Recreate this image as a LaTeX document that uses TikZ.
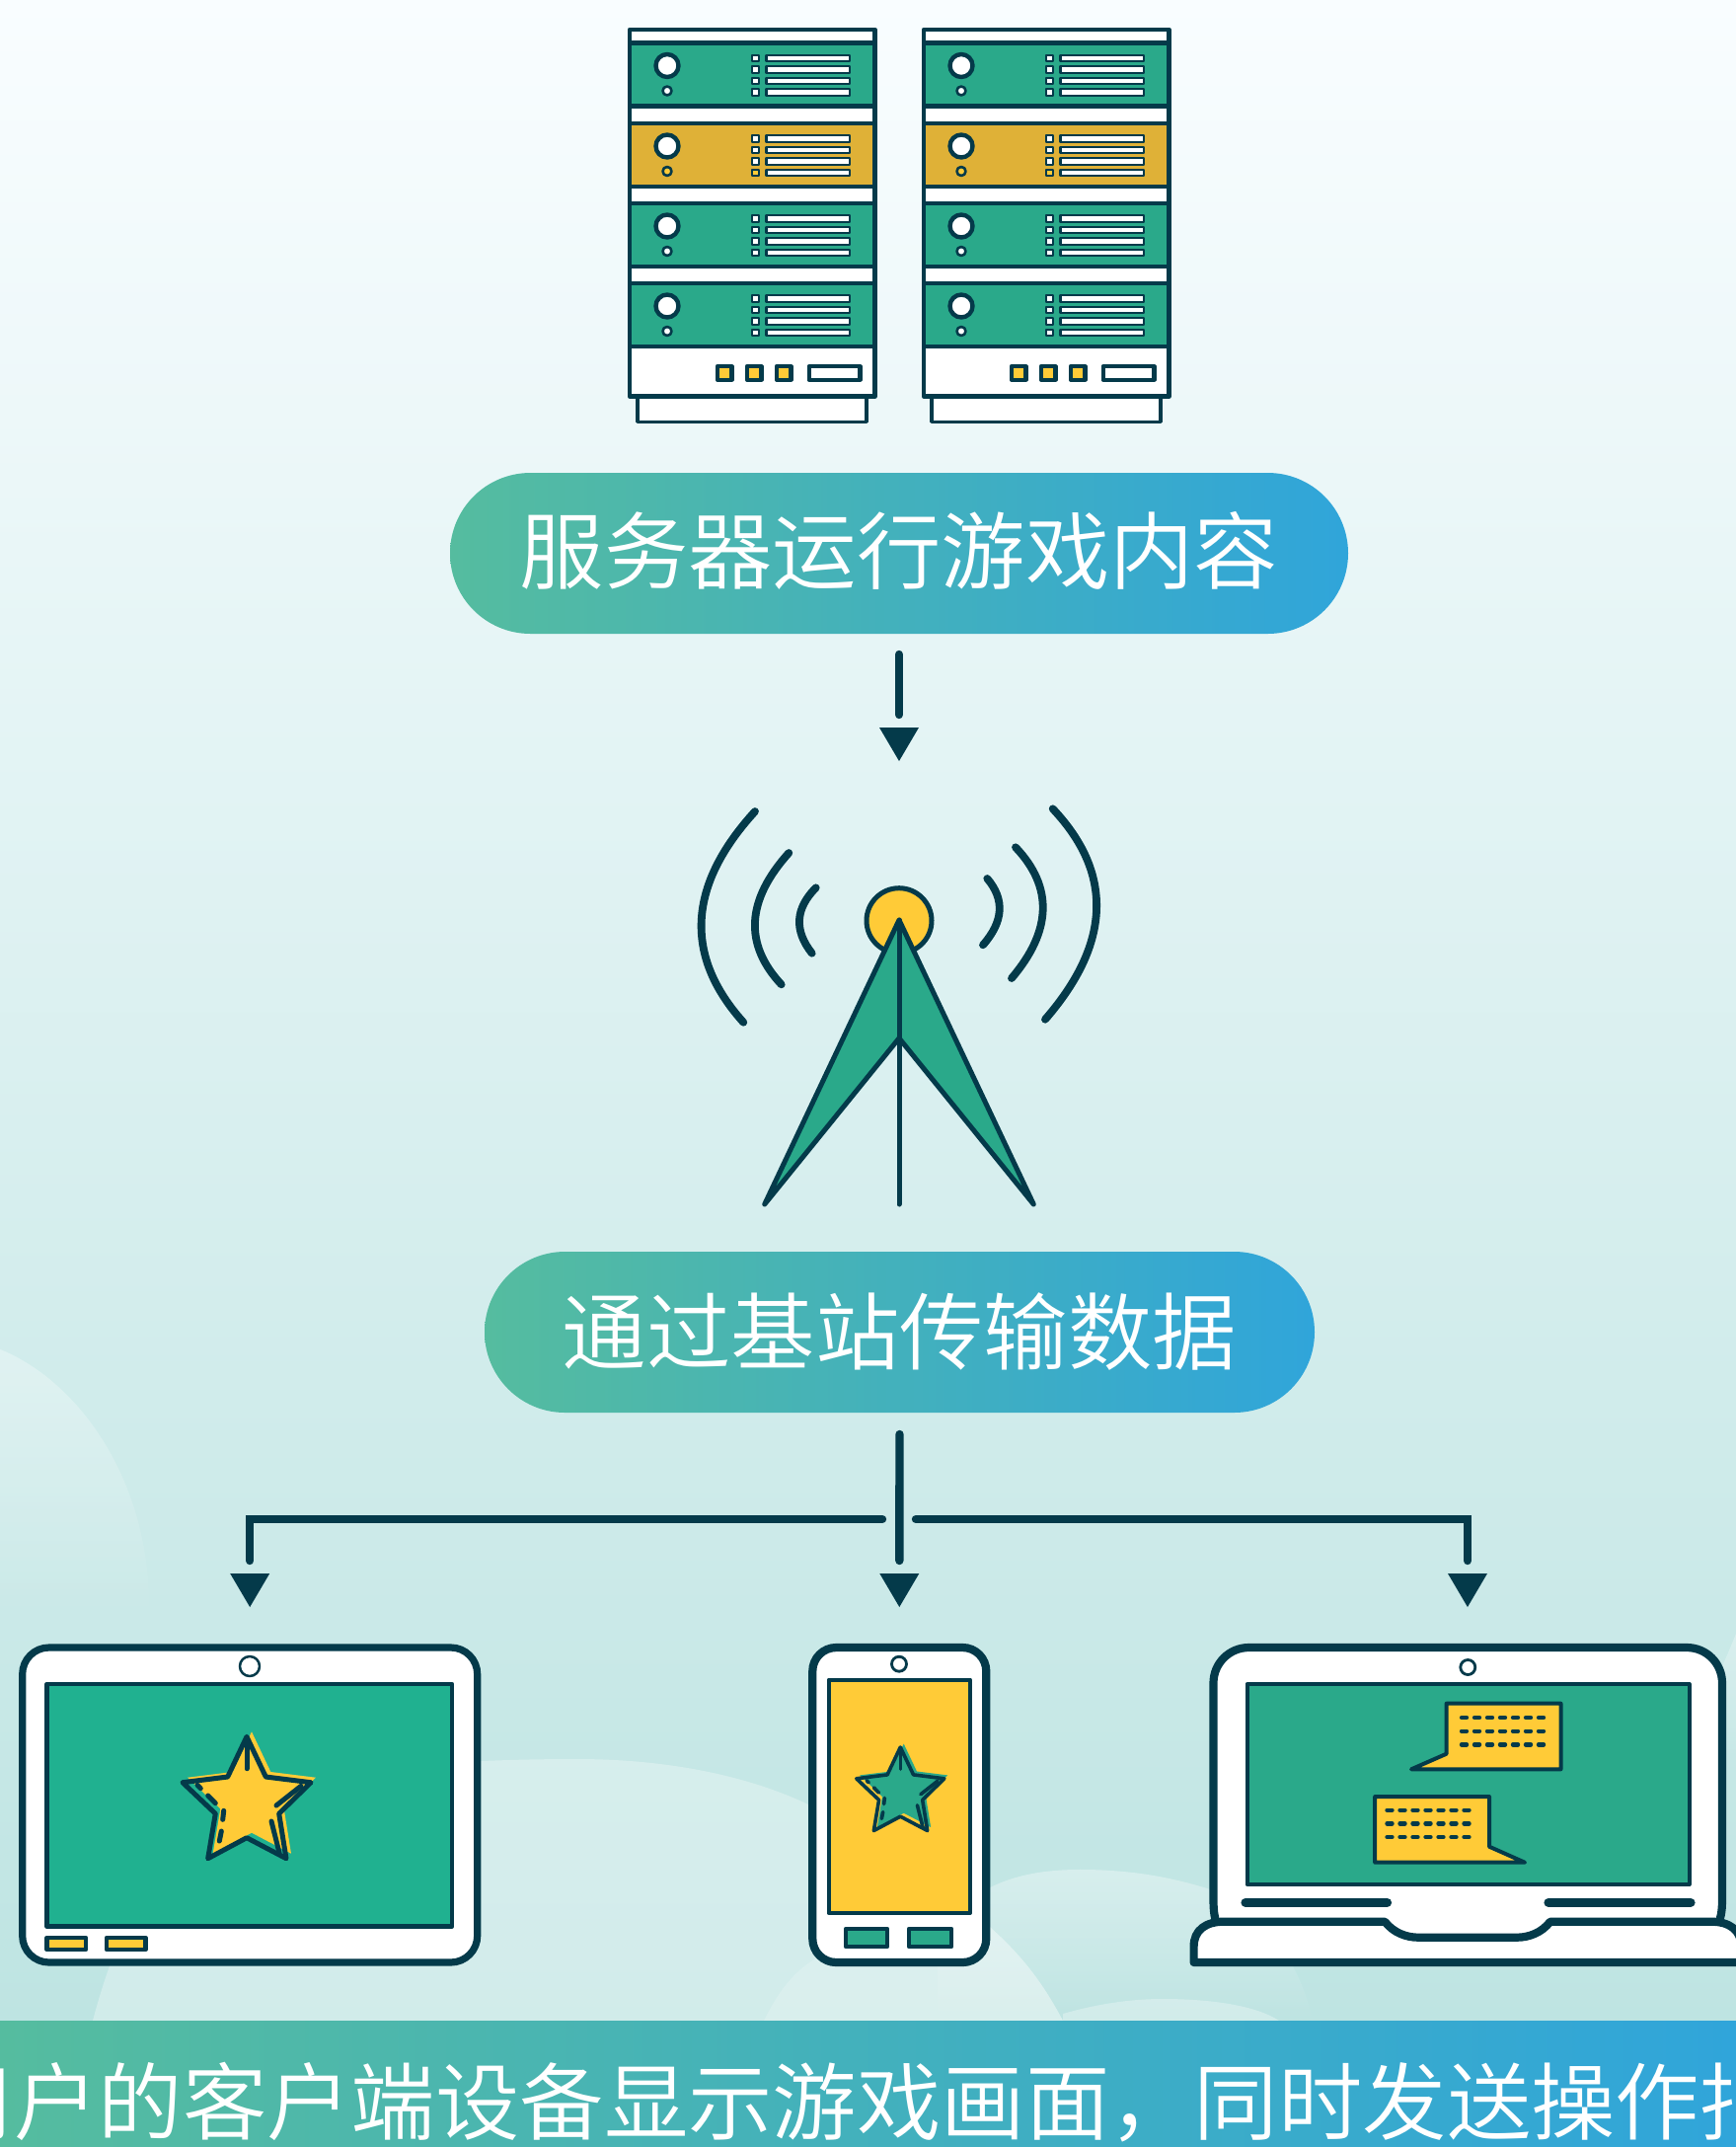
\documentclass[tikz,border=0pt]{standalone}
\usepackage{fontspec}
\newfontfamily\cjk{Noto Sans CJK SC DemiLight}
\usetikzlibrary{fadings}
\definecolor{dk}{HTML}{043A4A}
\definecolor{teal}{HTML}{2AA98A}
\definecolor{tabteal}{HTML}{20B190}
\definecolor{yel}{HTML}{FFCB37}
\definecolor{srvyel}{HTML}{DFB137}
\definecolor{gradL}{HTML}{55BC9F}
\definecolor{gradR}{HTML}{30A5DA}
\definecolor{bgT}{HTML}{F9FDFF}
\definecolor{bgM}{HTML}{DDF1F6}
\definecolor{bgB}{HTML}{BEE4E2}
\tikzset{
  x=0.5pt,y=-0.5pt,
  ol/.style={draw=dk,line width=#1,line join=round,line cap=round},
  ol/.default=2.2pt,
  pill/.style={rounded corners=40.75pt,minimum height=81.5pt,left color=gradL,right color=gradR,text=white,inner sep=0pt,outer sep=0pt,font=\cjk\fontsize{42.7pt}{50pt}\selectfont},
  conn/.style={draw=dk,line width=4.2pt,line cap=round,line join=miter,shorten >=23.5pt},
  body/.style={draw=dk,fill=white,line width=3.6pt,inner sep=0pt,outer sep=0pt},
  cloud/.style={fill=white,fill opacity=#1},
  cloudf/.style={fill=white,fill opacity=#1,path fading=south},
  rowdash/.style={draw=dk,line width=2.2pt,line cap=round,dash pattern=on 2.5pt off 4pt,dash phase=6pt},
}
% arrow head whose tip lies on the named end of a connector
\newcommand{\headat}[1]{\fill[dk] ([xshift=-10pt,yshift=17pt]#1) -- ([xshift=10pt,yshift=17pt]#1) -- (#1) -- cycle;}
\newcommand{\rackrow}[4]{%
  \filldraw[ol,fill=#2] (638,#1) rectangle (886.5,#1+64);
  \filldraw[ol,fill=white] (676,#1+23) circle[radius=11.5];
  \filldraw[ol=1.3pt,fill=#3] (676,#1+48.5) circle[radius=4.5];
  \foreach \dy in {15.5,27,38.5} {
    \filldraw[ol=1.1pt,fill=white] (762,#1+\dy-3.25) rectangle (768.8,#1+\dy+3.25);
    \filldraw[ol=1.1pt,fill=white] (776.5,#1+\dy-3.25) rectangle (861,#1+\dy+3.25);
  }
  \filldraw[ol=1.1pt,fill=#4] (762,#1+46.75) rectangle (768.8,#1+53.25);
  \filldraw[ol=1.1pt,fill=white] (776.5,#1+46.75) rectangle (861,#1+53.25);
}
\newcommand{\rackunit}{%
  \filldraw[ol=1.8pt,fill=white] (645.8,395) rectangle (878,427.3);
  \filldraw[ol,fill=white] (638,30) rectangle (886.5,401.5);
  \rackrow{43.5}{teal}{white}{white}
  \rackrow{125}{srvyel}{yel}{yel}
  \rackrow{206}{teal}{white}{white}
  \rackrow{287}{teal}{white}{white}
  \foreach \bx in {727,757,787} {
    \filldraw[ol,fill=yel] (\bx,371) rectangle (\bx+14.3,384.7);
  }
  \filldraw[ol,fill=white] (819.7,371) rectangle (871.3,384.7);
}
\newcommand{\starpts}{(250,1759.3) -- (269.3,1800) -- (315,1805.7) -- (282.7,1837.3) -- (290,1882.7) -- (250,1861.7) -- (210.7,1882.7) -- (218.3,1837.3) -- (185,1805.7) -- (230.7,1800) -- cycle}
\newcommand{\starshape}[5]{%
  \begin{scope}[shift={(#1,#2)},scale=#3,shift={(-250,-1759.3)}]
    \fill[#4] [shift={(5,-5)}] \starpts;
    \draw[ol=#5] \starpts;
    \draw[ol=#5] (250,1762) -- (250,1791.7);
    \draw[ol=#5] (280,1829) -- (305,1809.3);
    \draw[ol=#5] (275,1845) -- (283.3,1878);
    \draw[ol=#5] (200,1808.3) -- (203.3,1811.7);
    \draw[ol=#5] (210.7,1819) -- (218.3,1826.7);
    \draw[ol=#5] (226.7,1834.3) -- (225.7,1843.3);
    \draw[ol=#5] (224.3,1855) -- (222.3,1865);
  \end{scope}
}
\begin{document}
\begin{tikzpicture}
\useasboundingbox (0,0) rectangle (1759,2175);
\begin{scope}
\clip (0,0) rectangle (1759,2175);
% background
\shade[top color=bgT,middle color=bgM,bottom color=bgB] (0,0) rectangle (1759,2050);
% clouds
\fill[cloudf=0.33] (0,1367) .. controls (70,1395) and (140,1480) .. (150,1600) -- (152,1640) -- (0,1640) -- cycle;
\fill[cloud=0.3] (94,2047) .. controls (125,1930) and (170,1860) .. (260,1810) .. controls (360,1790) and (470,1782) .. (584,1782) .. controls (680,1782) and (760,1800) .. (819,1828) .. controls (900,1880) and (960,1900) .. (1004,1953) .. controls (1040,1985) and (1060,2015) .. (1077,2047) -- cycle;
\fill[cloud=0.18] (774,2047) .. controls (785,2025) and (800,2000) .. (825,1985) .. controls (860,1930) and (900,1900) .. (960,1925) .. controls (985,1935) and (995,1945) .. (1004,1953) .. controls (1040,1985) and (1060,2015) .. (1077,2047) -- cycle;
\fill[cloudf=0.35] (950,1960) .. controls (975,1925) and (1010,1894) .. (1094,1894) .. controls (1150,1894) and (1190,1903) .. (1223,1913) .. controls (1290,1940) and (1320,2000) .. (1330,2047) -- (950,2047) -- cycle;
\fill[cloud=0.3] (1077,2040) .. controls (1105,2032) and (1140,2025) .. (1178,2025) .. controls (1220,2025) and (1270,2030) .. (1296,2047) -- (1077,2047) -- cycle;
\fill[cloudf=0.3] (1759,1655) .. controls (1745,1690) and (1730,1720) .. (1700,1790) -- (1759,1790) -- cycle;
% servers
\rackunit
\begin{scope}[shift={(298,0)}]\rackunit\end{scope}
% labels
\node[pill,minimum width=455pt] (pilla) at (911,560.5) {\raisebox{1.5pt}[\height][\depth]{服务器运行游戏内容}};
\node[pill,minimum width=420.5pt] (pillb) at (911.5,1349.5) {通过基站传输数据};
% tower
\coordinate (tower) at (911,771);
\filldraw[ol=2.5pt,fill=yel] (911,932.7) circle[radius=33];
\filldraw[ol=2.5pt,fill=teal] (911,932) -- (774.7,1220) -- (911,1051.7) -- (1047.3,1220) -- cycle;
\draw[ol=2.5pt] (911,932) -- (911,1220);
\draw[ol=3.9pt] (765,822) .. controls (696.6,896.9) and (692.7,968.2) .. (753.3,1035.7);
\draw[ol=3.9pt] (799.3,864) .. controls (756.1,912) and (753.6,956.4) .. (791.7,997.3);
\draw[ol=3.9pt] (826.7,899.3) .. controls (805.8,920.4) and (804.4,942.5) .. (822.7,965.7);
\draw[ol=3.9pt] (1066.7,819.3) .. controls (1128.4,884.7) and (1125.8,955.8) .. (1059,1032.7);
\draw[ol=3.9pt] (1029,858.3) .. controls (1067.3,898.6) and (1065.9,942.8) .. (1025,991);
\draw[ol=3.9pt] (1000.3,890) .. controls (1018.3,911.2) and (1016.8,933.6) .. (996,957.3);
% tablet
\node[body,rounded corners=13.5pt,minimum width=230.5pt,minimum height=159.5pt] (tablet) at (253.2,1828.5) {};
\filldraw[ol=1.25pt,fill=white] (253,1688) circle[radius=10];
\filldraw[ol=2.2pt,fill=tabteal] (47.5,1706) rectangle (458,1951.5);
\filldraw[ol,fill=yel] (47.5,1963) rectangle (87,1975);
\filldraw[ol,fill=yel] (108,1963) rectangle (147.5,1975);
\starshape{250}{1759.3}{1}{yel}{2.5pt}
% phone
\node[body,rounded corners=12pt,minimum width=88pt,minimum height=159.5pt,line width=4.1pt] (phone) at (911.3,1828.5) {};
\filldraw[ol=1.4pt,fill=white] (911,1685.7) circle[radius=7.5];
\filldraw[ol=2pt,fill=yel] (839.5,1701.5) rectangle (983,1938);
\filldraw[ol,fill=teal] (857,1954) rectangle (899,1972);
\filldraw[ol,fill=teal] (921,1954) rectangle (964,1972);
\starshape{912.3}{1770}{0.685}{teal}{1.8pt}
% laptop
\coordinate (laptop) at (1487,1669);
\filldraw[ol=4.1pt,fill=white] (1232,1946) .. controls (1229.5,1938) and (1229.5,1930) .. (1229.5,1920) -- (1229.5,1705) .. controls (1229.5,1685) and (1245.5,1669) .. (1265.5,1669) -- (1709,1669) .. controls (1729,1669) and (1745,1685) .. (1745,1705) -- (1745,1920) .. controls (1745,1930) and (1745,1938) .. (1742,1946);
\filldraw[ol=1.4pt,fill=white] (1487.3,1689) circle[radius=7.5];
\filldraw[ol=2pt,fill=teal] (1263.5,1706) rectangle (1711.5,1909);
\filldraw[ol=2pt,fill=yel] (1465.6,1725.7) -- (1581.5,1725.7) -- (1581.5,1792.3) -- (1430,1792.3) -- (1465.6,1776.7) -- cycle;
\filldraw[ol=2pt,fill=yel] (1393.2,1820) -- (1509,1820) -- (1509,1870.7) -- (1545,1886.7) -- (1393.2,1886.7) -- cycle;
\foreach \ry in {1740,1753.7,1767.3} \draw[rowdash] (1480,\ry) -- (1571,\ry);
\foreach \ry in {1833.7,1847.3,1861} \draw[rowdash] (1404.5,\ry) -- (1495.5,\ry);
\draw[ol=4.6pt] (1262,1927.3) -- (1405.5,1927.3);
\draw[ol=4.6pt] (1569,1927.3) -- (1713,1927.3);
\fill[white] (1400,1935) rectangle (1574,1964);
\filldraw[ol=4.1pt,fill=white] (1209.6,1988) -- (1209.6,1972) .. controls (1209.6,1955) and (1222,1946.7) .. (1240,1946.7) -- (1403.2,1946.7) .. controls (1412,1958) and (1425,1962.7) .. (1437,1962.7) -- (1537,1962.7) .. controls (1549,1962.7) and (1562,1958) .. (1570.8,1946.7) -- (1734,1946.7) .. controls (1752,1946.7) and (1764.4,1955) .. (1764.4,1972) -- (1764.4,1988) -- cycle;
% connectors
\coordinate (forkL) at (894,1539);
\coordinate (forkR) at (928,1539);
\coordinate (tabletIn) at ([yshift=20.5pt]tablet.north);
\coordinate (phoneIn) at ([yshift=20.5pt]phone.north);
\coordinate (laptopIn) at ([yshift=20.5pt]laptop);
\draw[conn] ([yshift=-10.5pt]pilla.south) -- (tower);
\headat{tower}
\draw[conn] ([yshift=-11pt]pillb.south) -- (phoneIn);
\headat{phoneIn}
\draw[conn] (forkL) -| (tabletIn);
\headat{tabletIn}
\draw[conn] (forkR) -| (laptopIn);
\headat{laptopIn}
% bottom band
\shade[left color=gradL,right color=gradR] (0,2047) rectangle (1759,2175);
\node[text=white,inner sep=0pt,font=\cjk\fontsize{42.7pt}{50pt}\selectfont] (caption) at (911,2130) {用户的客户端设备显示游戏画面，同时发送操作指令};
\end{scope}
\end{tikzpicture}
\end{document}
